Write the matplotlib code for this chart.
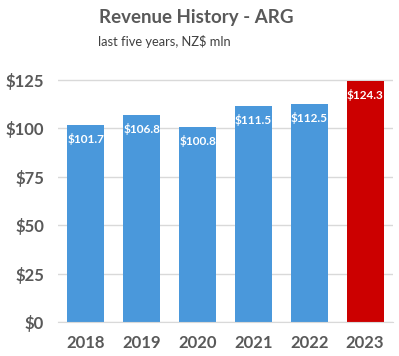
import matplotlib.pyplot as plt

years = ['2018', '2019', '2020', '2021', '2022', '2023']
revenue = [101.7, 106.8, 100.8, 111.5, 112.5, 124.3]
colors = ['#4a98db'] * 5 + ['#cc0000']
yticks = [0, 25, 50, 75, 100, 125]

plt.rcParams['font.family'] = ['Lato', 'DejaVu Sans']
grey = '#595959'

fig = plt.figure(figsize=(3.99, 3.56), dpi=100)
ax = fig.add_axes([58 / 399, 1 - 322 / 356, 335 / 399, 243 / 356])

x = range(len(years))
bars = ax.bar(x, revenue, width=0.66, color=colors, zorder=2)
for b, v in zip(bars, revenue):
    ax.annotate(f'${v:.1f}', (b.get_x() + b.get_width() / 2, v),
                xytext=(0, -10), textcoords='offset points', ha='center', va='center',
                color='white', fontsize=8.5, fontweight='bold')

ax.set_xlim(-0.5, len(years) - 0.5)
ax.set_ylim(0, 125.5)
ax.set_yticks(yticks)
ax.set_yticklabels([f'${t}' for t in yticks])
ax.set_xticks(list(x))
ax.set_xticklabels(years)
ax.yaxis.grid(True, color='#d9d9d9', linewidth=1, zorder=0)
for s in ['top', 'right', 'left']:
    ax.spines[s].set_visible(False)
ax.spines['bottom'].set_color('#d9d9d9')
ax.tick_params(length=0, labelsize=12, labelcolor=grey)
ax.tick_params(axis='x', pad=9)
ax.tick_params(axis='y', pad=10)
for lbl in ax.get_xticklabels() + ax.get_yticklabels():
    lbl.set_fontweight('bold')

fig.text(196 / 399, 1 - 18 / 356, 'Revenue History - ARG', ha='center', va='center',
         fontsize=13.5, fontweight='bold', color=grey)
fig.text(98 / 399, 1 - 42 / 356, 'last five years, NZ$ mln', ha='left', va='center',
         fontsize=9.3, color='#404040')

fig.savefig('out.png', dpi=100)
